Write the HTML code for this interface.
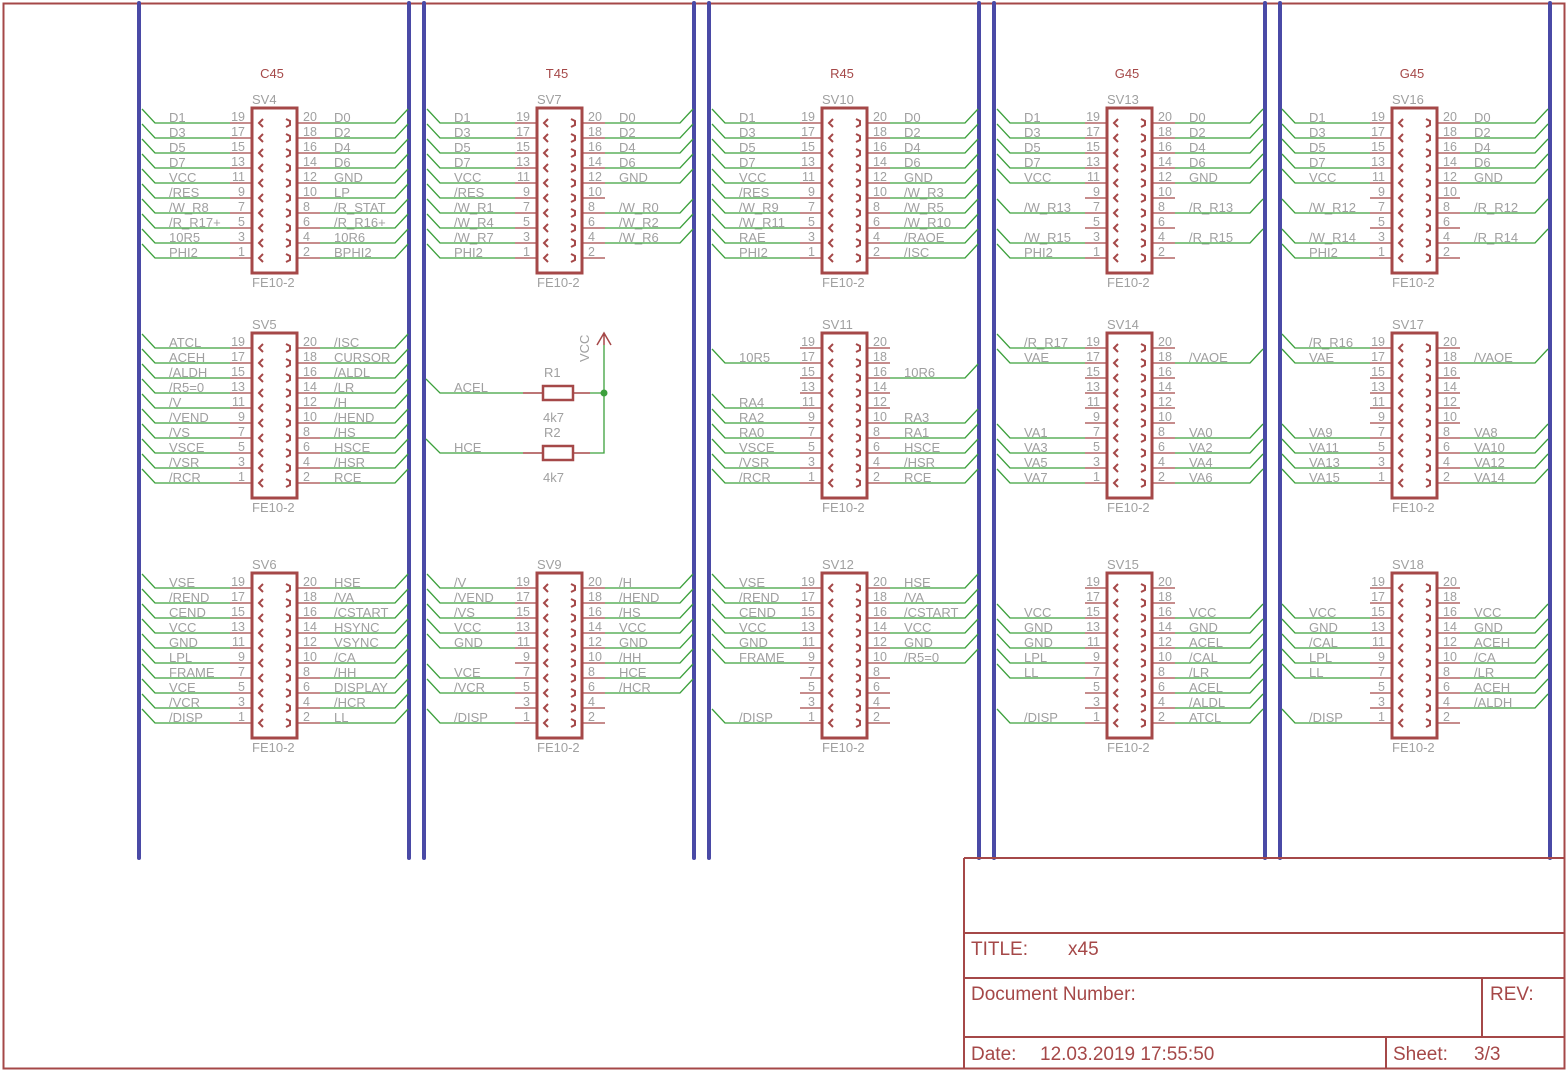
<!DOCTYPE html>
<html><head><meta charset="utf-8">
<style>
html,body{margin:0;padding:0;background:#fff;}
svg{display:block;}
text{font-family:"Liberation Sans",sans-serif;}
.t{fill:#a0a0a0;font-size:13px;}
.n{fill:#a0a0a0;font-size:12.5px;}
.rd{fill:#a54848;font-size:13px;}
.tb{fill:#a54848;font-size:19px;}
</style></head><body>
<svg id="s" width="1567" height="1073" viewBox="0 0 1567 1073" xmlns="http://www.w3.org/2000/svg">
<defs>
<g id="conn">
<rect x="0" y="0" width="45" height="165" fill="none" stroke="#a54848" stroke-width="3"/>
<g stroke="#a54848" stroke-width="1.3" fill="none">
<path d="M-22,15H0M-22,30H0M-22,45H0M-22,60H0M-22,75H0M-22,90H0M-22,105H0M-22,120H0M-22,135H0M-22,150H0"/>
<path d="M45,15H68M45,30H68M45,45H68M45,60H68M45,75H68M45,90H68M45,105H68M45,120H68M45,135H68M45,150H68"/>
</g>
<g stroke="#a54848" stroke-width="2" fill="none">
<path d="M11,11L7,15L11,19M11,26L7,30L11,34M11,41L7,45L11,49M11,56L7,60L11,64M11,71L7,75L11,79M11,86L7,90L11,94M11,101L7,105L11,109M11,116L7,120L11,124M11,131L7,135L11,139M11,146L7,150L11,154"/>
<path d="M34,11L38,13V17L34,19M34,26L38,28V32L34,34M34,41L38,43V47L34,49M34,56L38,58V62L34,64M34,71L38,73V77L34,79M34,86L38,88V92L34,94M34,101L38,103V107L34,109M34,116L38,118V122L34,124M34,131L38,133V137L34,139M34,146L38,148V152L34,154"/>
</g>
<g class="n" text-anchor="end">
<text x="-7" y="13">19</text><text x="-7" y="28">17</text><text x="-7" y="43">15</text><text x="-7" y="58">13</text><text x="-7" y="73">11</text><text x="-7" y="88">9</text><text x="-7" y="103">7</text><text x="-7" y="118">5</text><text x="-7" y="133">3</text><text x="-7" y="148">1</text>
</g>
<g class="n">
<text x="51" y="13">20</text><text x="51" y="28">18</text><text x="51" y="43">16</text><text x="51" y="58">14</text><text x="51" y="73">12</text><text x="51" y="88">10</text><text x="51" y="103">8</text><text x="51" y="118">6</text><text x="51" y="133">4</text><text x="51" y="148">2</text>
</g>
<text class="t" x="0" y="179">FE10-2</text>
</g>
</defs>

<rect x="3.5" y="3.5" width="1561" height="1065" fill="none" stroke="#a54848" stroke-width="2"/>
<g stroke="#4a4aa6" stroke-width="4" stroke-linecap="round">
<line x1="139" y1="3" x2="139" y2="858"/><line x1="409" y1="3" x2="409" y2="858"/>
<line x1="424" y1="3" x2="424" y2="858"/><line x1="694" y1="3" x2="694" y2="858"/>
<line x1="709" y1="3" x2="709" y2="858"/><line x1="979" y1="3" x2="979" y2="858"/>
<line x1="994" y1="3" x2="994" y2="858"/><line x1="1265" y1="3" x2="1265" y2="858"/>
<line x1="1280" y1="3" x2="1280" y2="858"/><line x1="1550" y1="3" x2="1550" y2="858"/>
</g>
<g class="rd" text-anchor="middle">
<text x="272" y="78">C45</text><text x="557" y="78">T45</text><text x="842" y="78">R45</text><text x="1127" y="78">G45</text><text x="1412" y="78">G45</text>
</g>

<!-- Row 1 -->
<g class="conn" transform="translate(252,108)"><use href="#conn"/><text class="t" x="0" y="-4">SV4</text>
<text class="t L" x="-83" y="14">D1</text><text class="t L" x="-83" y="29">D3</text><text class="t L" x="-83" y="44">D5</text><text class="t L" x="-83" y="59">D7</text><text class="t L" x="-83" y="74">VCC</text><text class="t L" x="-83" y="89">/RES</text><text class="t L" x="-83" y="104">/W_R8</text><text class="t L" x="-83" y="119">/R_R17+</text><text class="t L" x="-83" y="134">10R5</text><text class="t L" x="-83" y="149">PHI2</text>
<text class="t R" x="82" y="14">D0</text><text class="t R" x="82" y="29">D2</text><text class="t R" x="82" y="44">D4</text><text class="t R" x="82" y="59">D6</text><text class="t R" x="82" y="74">GND</text><text class="t R" x="82" y="89">LP</text><text class="t R" x="82" y="104">/R_STAT</text><text class="t R" x="82" y="119">/R_R16+</text><text class="t R" x="82" y="134">10R6</text><text class="t R" x="82" y="149">BPHI2</text>
</g>
<g class="conn" transform="translate(537,108)"><use href="#conn"/><text class="t" x="0" y="-4">SV7</text>
<text class="t L" x="-83" y="14">D1</text><text class="t L" x="-83" y="29">D3</text><text class="t L" x="-83" y="44">D5</text><text class="t L" x="-83" y="59">D7</text><text class="t L" x="-83" y="74">VCC</text><text class="t L" x="-83" y="89">/RES</text><text class="t L" x="-83" y="104">/W_R1</text><text class="t L" x="-83" y="119">/W_R4</text><text class="t L" x="-83" y="134">/W_R7</text><text class="t L" x="-83" y="149">PHI2</text>
<text class="t R" x="82" y="14">D0</text><text class="t R" x="82" y="29">D2</text><text class="t R" x="82" y="44">D4</text><text class="t R" x="82" y="59">D6</text><text class="t R" x="82" y="74">GND</text><text class="t R" x="82" y="104">/W_R0</text><text class="t R" x="82" y="119">/W_R2</text><text class="t R" x="82" y="134">/W_R6</text>
</g>
<g class="conn" transform="translate(822,108)"><use href="#conn"/><text class="t" x="0" y="-4">SV10</text>
<text class="t L" x="-83" y="14">D1</text><text class="t L" x="-83" y="29">D3</text><text class="t L" x="-83" y="44">D5</text><text class="t L" x="-83" y="59">D7</text><text class="t L" x="-83" y="74">VCC</text><text class="t L" x="-83" y="89">/RES</text><text class="t L" x="-83" y="104">/W_R9</text><text class="t L" x="-83" y="119">/W_R11</text><text class="t L" x="-83" y="134">RAE</text><text class="t L" x="-83" y="149">PHI2</text>
<text class="t R" x="82" y="14">D0</text><text class="t R" x="82" y="29">D2</text><text class="t R" x="82" y="44">D4</text><text class="t R" x="82" y="59">D6</text><text class="t R" x="82" y="74">GND</text><text class="t R" x="82" y="89">/W_R3</text><text class="t R" x="82" y="104">/W_R5</text><text class="t R" x="82" y="119">/W_R10</text><text class="t R" x="82" y="134">/RAOE</text><text class="t R" x="82" y="149">/ISC</text>
</g>
<g class="conn" transform="translate(1107,108)"><use href="#conn"/><text class="t" x="0" y="-4">SV13</text>
<text class="t L" x="-83" y="14">D1</text><text class="t L" x="-83" y="29">D3</text><text class="t L" x="-83" y="44">D5</text><text class="t L" x="-83" y="59">D7</text><text class="t L" x="-83" y="74">VCC</text><text class="t L" x="-83" y="104">/W_R13</text><text class="t L" x="-83" y="134">/W_R15</text><text class="t L" x="-83" y="149">PHI2</text>
<text class="t R" x="82" y="14">D0</text><text class="t R" x="82" y="29">D2</text><text class="t R" x="82" y="44">D4</text><text class="t R" x="82" y="59">D6</text><text class="t R" x="82" y="74">GND</text><text class="t R" x="82" y="104">/R_R13</text><text class="t R" x="82" y="134">/R_R15</text>
</g>
<g class="conn" transform="translate(1392,108)"><use href="#conn"/><text class="t" x="0" y="-4">SV16</text>
<text class="t L" x="-83" y="14">D1</text><text class="t L" x="-83" y="29">D3</text><text class="t L" x="-83" y="44">D5</text><text class="t L" x="-83" y="59">D7</text><text class="t L" x="-83" y="74">VCC</text><text class="t L" x="-83" y="104">/W_R12</text><text class="t L" x="-83" y="134">/W_R14</text><text class="t L" x="-83" y="149">PHI2</text>
<text class="t R" x="82" y="14">D0</text><text class="t R" x="82" y="29">D2</text><text class="t R" x="82" y="44">D4</text><text class="t R" x="82" y="59">D6</text><text class="t R" x="82" y="74">GND</text><text class="t R" x="82" y="104">/R_R12</text><text class="t R" x="82" y="134">/R_R14</text>
</g>

<!-- Row 2 -->
<g class="conn" transform="translate(252,333)"><use href="#conn"/><text class="t" x="0" y="-4">SV5</text>
<text class="t L" x="-83" y="14">ATCL</text><text class="t L" x="-83" y="29">ACEH</text><text class="t L" x="-83" y="44">/ALDH</text><text class="t L" x="-83" y="59">/R5=0</text><text class="t L" x="-83" y="74">/V</text><text class="t L" x="-83" y="89">/VEND</text><text class="t L" x="-83" y="104">/VS</text><text class="t L" x="-83" y="119">VSCE</text><text class="t L" x="-83" y="134">/VSR</text><text class="t L" x="-83" y="149">/RCR</text>
<text class="t R" x="82" y="14">/ISC</text><text class="t R" x="82" y="29">CURSOR</text><text class="t R" x="82" y="44">/ALDL</text><text class="t R" x="82" y="59">/LR</text><text class="t R" x="82" y="74">/H</text><text class="t R" x="82" y="89">/HEND</text><text class="t R" x="82" y="104">/HS</text><text class="t R" x="82" y="119">HSCE</text><text class="t R" x="82" y="134">/HSR</text><text class="t R" x="82" y="149">RCE</text>
</g>
<g class="conn" transform="translate(822,333)"><use href="#conn"/><text class="t" x="0" y="-4">SV11</text>
<text class="t L" x="-83" y="29">10R5</text><text class="t L" x="-83" y="74">RA4</text><text class="t L" x="-83" y="89">RA2</text><text class="t L" x="-83" y="104">RA0</text><text class="t L" x="-83" y="119">VSCE</text><text class="t L" x="-83" y="134">/VSR</text><text class="t L" x="-83" y="149">/RCR</text>
<text class="t R" x="82" y="44">10R6</text><text class="t R" x="82" y="89">RA3</text><text class="t R" x="82" y="104">RA1</text><text class="t R" x="82" y="119">HSCE</text><text class="t R" x="82" y="134">/HSR</text><text class="t R" x="82" y="149">RCE</text>
</g>
<g class="conn" transform="translate(1107,333)"><use href="#conn"/><text class="t" x="0" y="-4">SV14</text>
<text class="t L" x="-83" y="14">/R_R17</text><text class="t L" x="-83" y="29">VAE</text><text class="t L" x="-83" y="104">VA1</text><text class="t L" x="-83" y="119">VA3</text><text class="t L" x="-83" y="134">VA5</text><text class="t L" x="-83" y="149">VA7</text>
<text class="t R" x="82" y="29">/VAOE</text><text class="t R" x="82" y="104">VA0</text><text class="t R" x="82" y="119">VA2</text><text class="t R" x="82" y="134">VA4</text><text class="t R" x="82" y="149">VA6</text>
</g>
<g class="conn" transform="translate(1392,333)"><use href="#conn"/><text class="t" x="0" y="-4">SV17</text>
<text class="t L" x="-83" y="14">/R_R16</text><text class="t L" x="-83" y="29">VAE</text><text class="t L" x="-83" y="104">VA9</text><text class="t L" x="-83" y="119">VA11</text><text class="t L" x="-83" y="134">VA13</text><text class="t L" x="-83" y="149">VA15</text>
<text class="t R" x="82" y="29">/VAOE</text><text class="t R" x="82" y="104">VA8</text><text class="t R" x="82" y="119">VA10</text><text class="t R" x="82" y="134">VA12</text><text class="t R" x="82" y="149">VA14</text>
</g>

<!-- Row 3 -->
<g class="conn" transform="translate(252,573)"><use href="#conn"/><text class="t" x="0" y="-4">SV6</text>
<text class="t L" x="-83" y="14">VSE</text><text class="t L" x="-83" y="29">/REND</text><text class="t L" x="-83" y="44">CEND</text><text class="t L" x="-83" y="59">VCC</text><text class="t L" x="-83" y="74">GND</text><text class="t L" x="-83" y="89">LPL</text><text class="t L" x="-83" y="104">FRAME</text><text class="t L" x="-83" y="119">VCE</text><text class="t L" x="-83" y="134">/VCR</text><text class="t L" x="-83" y="149">/DISP</text>
<text class="t R" x="82" y="14">HSE</text><text class="t R" x="82" y="29">/VA</text><text class="t R" x="82" y="44">/CSTART</text><text class="t R" x="82" y="59">HSYNC</text><text class="t R" x="82" y="74">VSYNC</text><text class="t R" x="82" y="89">/CA</text><text class="t R" x="82" y="104">/HH</text><text class="t R" x="82" y="119">DISPLAY</text><text class="t R" x="82" y="134">/HCR</text><text class="t R" x="82" y="149">LL</text>
</g>
<g class="conn" transform="translate(537,573)"><use href="#conn"/><text class="t" x="0" y="-4">SV9</text>
<text class="t L" x="-83" y="14">/V</text><text class="t L" x="-83" y="29">/VEND</text><text class="t L" x="-83" y="44">/VS</text><text class="t L" x="-83" y="59">VCC</text><text class="t L" x="-83" y="74">GND</text><text class="t L" x="-83" y="104">VCE</text><text class="t L" x="-83" y="119">/VCR</text><text class="t L" x="-83" y="149">/DISP</text>
<text class="t R" x="82" y="14">/H</text><text class="t R" x="82" y="29">/HEND</text><text class="t R" x="82" y="44">/HS</text><text class="t R" x="82" y="59">VCC</text><text class="t R" x="82" y="74">GND</text><text class="t R" x="82" y="89">/HH</text><text class="t R" x="82" y="104">HCE</text><text class="t R" x="82" y="119">/HCR</text>
</g>
<g class="conn" transform="translate(822,573)"><use href="#conn"/><text class="t" x="0" y="-4">SV12</text>
<text class="t L" x="-83" y="14">VSE</text><text class="t L" x="-83" y="29">/REND</text><text class="t L" x="-83" y="44">CEND</text><text class="t L" x="-83" y="59">VCC</text><text class="t L" x="-83" y="74">GND</text><text class="t L" x="-83" y="89">FRAME</text><text class="t L" x="-83" y="149">/DISP</text>
<text class="t R" x="82" y="14">HSE</text><text class="t R" x="82" y="29">/VA</text><text class="t R" x="82" y="44">/CSTART</text><text class="t R" x="82" y="59">VCC</text><text class="t R" x="82" y="74">GND</text><text class="t R" x="82" y="89">/R5=0</text>
</g>
<g class="conn" transform="translate(1107,573)"><use href="#conn"/><text class="t" x="0" y="-4">SV15</text>
<text class="t L" x="-83" y="44">VCC</text><text class="t L" x="-83" y="59">GND</text><text class="t L" x="-83" y="74">GND</text><text class="t L" x="-83" y="89">LPL</text><text class="t L" x="-83" y="104">LL</text><text class="t L" x="-83" y="149">/DISP</text>
<text class="t R" x="82" y="44">VCC</text><text class="t R" x="82" y="59">GND</text><text class="t R" x="82" y="74">ACEL</text><text class="t R" x="82" y="89">/CAL</text><text class="t R" x="82" y="104">/LR</text><text class="t R" x="82" y="119">ACEL</text><text class="t R" x="82" y="134">/ALDL</text><text class="t R" x="82" y="149">ATCL</text>
</g>
<g class="conn" transform="translate(1392,573)"><use href="#conn"/><text class="t" x="0" y="-4">SV18</text>
<text class="t L" x="-83" y="44">VCC</text><text class="t L" x="-83" y="59">GND</text><text class="t L" x="-83" y="74">/CAL</text><text class="t L" x="-83" y="89">LPL</text><text class="t L" x="-83" y="104">LL</text><text class="t L" x="-83" y="149">/DISP</text>
<text class="t R" x="82" y="44">VCC</text><text class="t R" x="82" y="59">GND</text><text class="t R" x="82" y="74">ACEH</text><text class="t R" x="82" y="89">/CA</text><text class="t R" x="82" y="104">/LR</text><text class="t R" x="82" y="119">ACEH</text><text class="t R" x="82" y="134">/ALDH</text>
</g>

<!-- T45 resistors -->
<g fill="none">
<path d="M426,379L440,393H523M426,439L440,453H523M590,393H604V345M590,453H604V393" stroke="#3ca03c" stroke-width="1.3"/>
<path d="M523,393H543M573,393H590M523,453H543M573,453H590M604,333V345M597,345L604,333L611,345" stroke="#a54848" stroke-width="1.5"/>
<rect x="543" y="386" width="30" height="14" stroke="#a54848" stroke-width="2.5"/>
<rect x="543" y="446" width="30" height="14" stroke="#a54848" stroke-width="2.5"/>
</g>
<circle cx="604" cy="393" r="3.5" fill="#3ca03c"/>
<text class="t" x="454" y="392">ACEL</text><text class="t" x="454" y="452">HCE</text>
<text class="t" x="544" y="377">R1</text><text class="t" x="543" y="422">4k7</text>
<text class="t" x="544" y="437">R2</text><text class="t" x="543" y="482">4k7</text>
<text class="t" transform="translate(589,362) rotate(-90)">VCC</text>

<!-- Title block -->
<g stroke="#a54848" stroke-width="2" fill="none">
<path d="M964,858H1564M964,858V1068M964,933H1564M964,978H1564M964,1037H1564M1482,978V1037M1386,1037V1068"/>
</g>
<text class="tb" x="971" y="955">TITLE:</text><text class="tb" x="1068" y="955">x45</text>
<text class="tb" x="971" y="1000">Document Number:</text><text class="tb" x="1490" y="1000">REV:</text>
<text class="tb" x="971" y="1060">Date:</text><text class="tb" x="1040" y="1060">12.03.2019 17:55:50</text>
<text class="tb" x="1393" y="1060">Sheet:</text><text class="tb" x="1474" y="1060">3/3</text>
<g id="wires" stroke="#3ca03c" stroke-width="1.3" fill="none"></g>
</svg>
<script>
(function(){
var ns="http://www.w3.org/2000/svg",d="";
document.querySelectorAll("g.conn").forEach(function(g){
  var m=/translate\((\d+),(\d+)\)/.exec(g.getAttribute("transform"));
  var bx=+m[1],by=+m[2];
  g.querySelectorAll("text.L").forEach(function(t){
    var r=by+(+t.getAttribute("y"))+1;
    d+="M"+(bx-110)+","+(r-14)+"L"+(bx-97)+","+r+"H"+(bx-22);
  });
  g.querySelectorAll("text.R").forEach(function(t){
    var r=by+(+t.getAttribute("y"))+1;
    d+="M"+(bx+68)+","+r+"H"+(bx+143)+"L"+(bx+156)+","+(r-14);
  });
});
var p=document.createElementNS(ns,"path");p.setAttribute("d",d);
document.getElementById("wires").appendChild(p);
})();
</script>
</body></html>
